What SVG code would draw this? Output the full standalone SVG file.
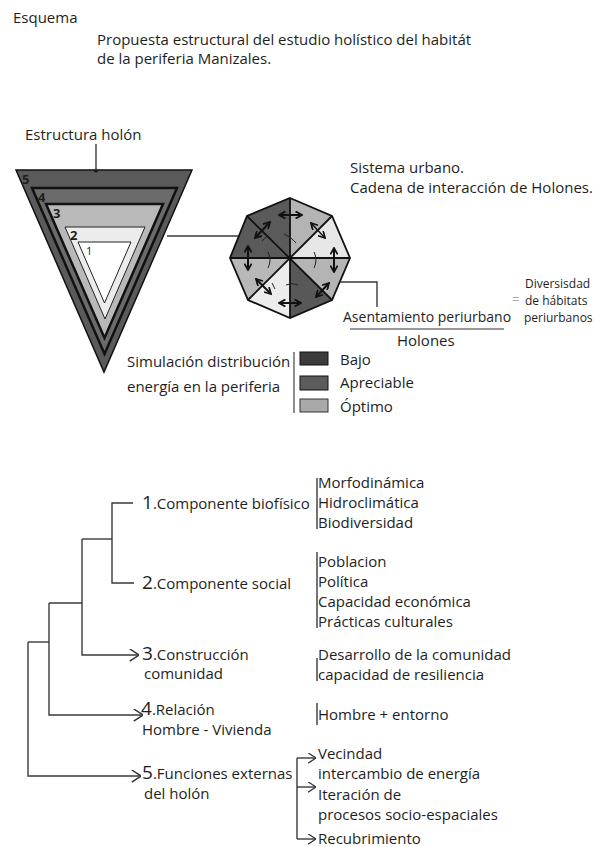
<svg xmlns="http://www.w3.org/2000/svg" width="603" height="847" viewBox="0 0 603 847">
<style>
text{font-family:"Open Sans","Noto Sans","Liberation Sans",sans-serif;fill:#1e1e1e;font-size:15px}
.sm{font-size:12px}
.num{font-size:19px}
.tri{font-size:13px;font-weight:bold}
.ln{fill:none;stroke:#3a3a3a;stroke-width:1.4}
.oc{fill:none;stroke:#111;stroke-width:1.8}
.oa{fill:none;stroke:#111;stroke-width:2;marker-start:url(#oh);marker-end:url(#oh)}
.arc{fill:none;stroke:#222;stroke-width:1}
</style>
<defs>
<marker id="ch" viewBox="0 0 10 14" refX="10" refY="7" markerWidth="10" markerHeight="13" markerUnits="userSpaceOnUse" orient="auto"><path d="M0,0.5 L10,7 L0,13.5" fill="none" stroke="#333" stroke-width="1.6"/></marker>
<marker id="chs" viewBox="0 0 10 14" refX="10" refY="7" markerWidth="8" markerHeight="11" markerUnits="userSpaceOnUse" orient="auto"><path d="M0,0.5 L10,7 L0,13.5" fill="none" stroke="#333" stroke-width="1.6"/></marker>
<marker id="oh" viewBox="0 0 10 10" refX="9" refY="5" markerWidth="8" markerHeight="8" markerUnits="userSpaceOnUse" orient="auto-start-reverse"><path d="M1,0.5 L9,5 L1,9.5" fill="none" stroke="#111" stroke-width="2.2"/></marker>
</defs>
<rect width="603" height="847" fill="#fff"/>

<g id="titles">
<text x="13" y="23">Esquema</text>
<text x="97" y="45">Propuesta estructural del estudio holístico del habitát</text>
<text x="97" y="64">de la periferia Manizales.</text>
</g>

<g id="holon-triangle">
<text x="25" y="140">Estructura holón</text>
<polygon points="16,170 192,170 104,372" fill="#5a5a5a" stroke="#111" stroke-width="1.5"/>
<polygon points="32,188 177,188 104.5,354" fill="#6b6b6b" stroke="#111" stroke-width="2.5"/>
<polygon points="46,204 163,204 104.5,338" fill="#b9b9b9" stroke="#111" stroke-width="2.5"/>
<polygon points="65,227 145,227 105,319" fill="#ececec" stroke="#222" stroke-width="1"/>
<polygon points="78,242 131,242 104.5,303" fill="#fff" stroke="#222" stroke-width="1"/>
<text class="tri" x="22" y="184">5</text>
<text class="tri" x="38" y="202">4</text>
<text class="tri" x="53" y="218">3</text>
<text class="tri" x="70" y="240">2</text>
<text x="86" y="255" style="font-size:11px">1</text>
</g>

<g id="octagon">
<polygon points="290,258 290,198 332,216" fill="#b4b4b4"/>
<polygon points="290,258 332,216 350,258" fill="#e6e6e6"/>
<polygon points="290,258 350,258 332,300" fill="#b4b4b4"/>
<polygon points="290,258 332,300 290,318" fill="#585858"/>
<polygon points="290,258 290,318 248,300" fill="#ececec"/>
<polygon points="290,258 248,300 230,258" fill="#b8b8b8"/>
<polygon points="290,258 230,258 247,216" fill="#5a5a5a"/>
<polygon points="290,258 247,216 290,198" fill="#5a5a5a"/>
<polygon class="oc" points="290,198 332,216 350,258 332,300 290,318 248,300 230,258 247,216" stroke-width="1.5"/>
<path class="oc" d="M290,198 V318 M230,258 H350 M247,216 L332,300 M332,216 L248,300"/>
<path class="oa" d="M279,215 H302"/>
<path class="oa" d="M255,238 L270,222"/>
<path class="oa" d="M248,246 V270"/>
<path class="oa" d="M256,279 L271,294"/>
<path class="oa" d="M279,303 H301"/>
<path class="oa" d="M316,297 L329,283"/>
<path class="oa" d="M334,248 V272"/>
<path class="oa" d="M311,223 L325,238" style="stroke-width:1.4"/>
<path class="arc" d="M284,234 Q292,237 296,243"/>
<path class="arc" d="M314,252 Q318,260 314,268"/>
<path class="arc" d="M268,252 Q272,260 268,268"/>
<path class="arc" d="M286,285 Q292,282 298,285"/>
<path class="arc" d="M267,236 L262,241"/>
<path class="arc" d="M272,283 L275,289"/>
</g>

<g id="sistema">
<text x="350" y="173">Sistema urbano.</text>
<text x="350" y="193">Cadena de interacción de Holones.</text>
</g>

<g id="asentamiento">
<text x="343" y="322" style="font-size:14px">Asentamiento periurbano</text>
<line x1="350" y1="329" x2="504" y2="329" stroke="#333" stroke-width="1"/>
<text x="397" y="346">Holones</text>
<text x="512" y="304" style="font-size:13px;fill:#aaa">=</text>
<text class="sm" x="525" y="288">Diversisdad</text>
<text class="sm" x="525" y="305">de hábitats</text>
<text class="sm" x="524" y="322">periurbanos</text>
</g>

<g id="legend">
<text x="127" y="367">Simulación distribución</text>
<text x="127" y="392">energía en la periferia</text>
<line x1="294" y1="352" x2="294" y2="413" stroke="#444" stroke-width="1.2"/>
<rect x="300" y="352" width="28" height="13" fill="#3c3c3c" stroke="#111" stroke-width="1"/>
<rect x="300" y="376" width="28" height="14" fill="#5c5c5c" stroke="#111" stroke-width="1"/>
<rect x="300" y="399" width="28" height="13" fill="#a9a9a9" stroke="#333" stroke-width="1"/>
<text x="340" y="365">Bajo</text>
<text x="340" y="388">Apreciable</text>
<text x="340" y="412">Óptimo</text>
</g>

<g id="connectors">
<line class="ln" x1="167" y1="236" x2="238" y2="236" stroke-width="1"/>
<path class="ln" d="M340,282 H377 V307" stroke-width="1"/>
<line class="ln" x1="96" y1="144" x2="96" y2="171" stroke-width="1.2"/>
<circle cx="96" cy="171" r="1.6" fill="#111"/>
<path class="ln" d="M133,503 H112 V583 H134"/>
<path class="ln" d="M82,539 H112"/>
<path class="ln" d="M82,539 V655 H139" marker-end="url(#ch)"/>
<path class="ln" d="M49,603 H82"/>
<path class="ln" d="M49,603 V715 H143" marker-end="url(#ch)"/>
<path class="ln" d="M28,642 H49"/>
<path class="ln" d="M28,642 V776 H141" marker-end="url(#ch)"/>
<path class="ln" d="M297,758 V839"/>
<path class="ln" d="M297,758 H316" marker-end="url(#chs)"/>
<path class="ln" d="M297,787 H316" marker-end="url(#chs)"/>
<path class="ln" d="M297,839 H316" marker-end="url(#chs)"/>
<path class="ln" d="M317,478 V529 M317,552 V628 M317,658 V681 M317,703 V725" stroke="#222" stroke-width="1.3"/>
</g>

<g id="comp1">
<text x="142" y="509"><tspan class="num">1</tspan>.Componente biofísico</text>
<text x="318" y="488">Morfodinámica</text>
<text x="318" y="508">Hidroclimática</text>
<text x="318" y="528">Biodiversidad</text>
</g>
<g id="comp2">
<text x="142" y="589"><tspan class="num">2</tspan>.Componente social</text>
<text x="318" y="567">Poblacion</text>
<text x="318" y="587">Política</text>
<text x="318" y="607">Capacidad económica</text>
<text x="318" y="627">Prácticas culturales</text>
</g>
<g id="comp3">
<text x="142" y="660"><tspan class="num">3</tspan>.Construcción</text>
<text x="144" y="679">comunidad</text>
<text x="318" y="660">Desarrollo de la comunidad</text>
<text x="318" y="680">capacidad de resiliencia</text>
</g>
<g id="comp4">
<text x="141" y="715"><tspan class="num">4</tspan>.Relación</text>
<text x="142" y="735">Hombre - Vivienda</text>
<text x="318" y="720">Hombre + entorno</text>
</g>
<g id="comp5">
<text x="142" y="779"><tspan class="num">5</tspan>.Funciones externas</text>
<text x="144" y="799">del holón</text>
<text x="318" y="759">Vecindad</text>
<text x="318" y="779">intercambio de energía</text>
<text x="318" y="800">Iteración de</text>
<text x="318" y="820">procesos socio-espaciales</text>
<text x="318" y="844">Recubrimiento</text>
</g>
</svg>
